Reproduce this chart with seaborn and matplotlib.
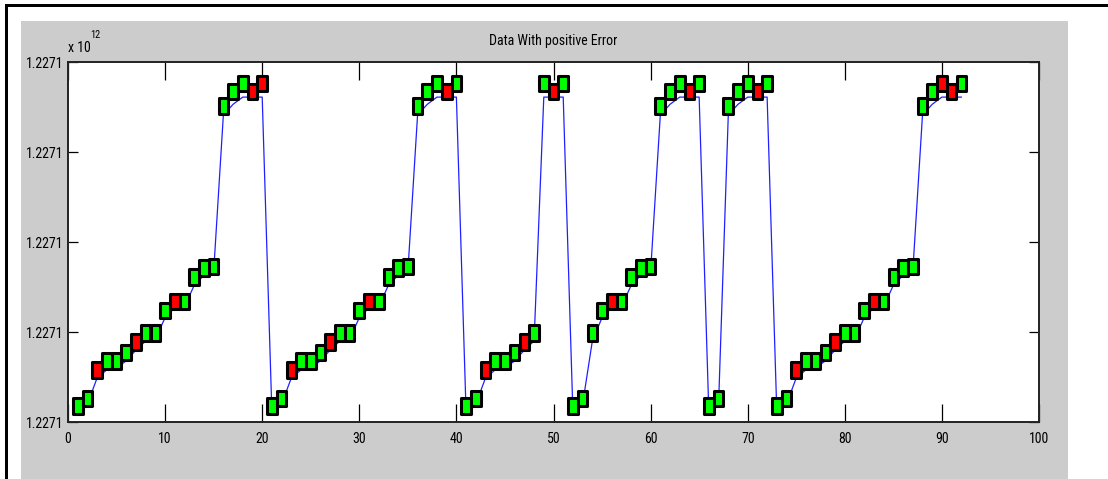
import numpy as np
import pandas as pd
import matplotlib
matplotlib.use("Agg")
import matplotlib.pyplot as plt
from matplotlib.patches import Rectangle
from matplotlib.path import Path
from matplotlib import font_manager
import seaborn as sns

# sample index
x_vals = list(range(1, 93))

# data with positive error (marker centres), in axis units between ticks
marker_y = [0.18, 0.26, 0.58, 0.68, 0.68, 0.77, 0.89, 0.99, 0.99, 1.24, 1.34, 1.34, 1.61, 1.71, 1.73, 3.51, 3.67, 3.76, 3.67, 3.76,
            0.18, 0.26, 0.58, 0.68, 0.68, 0.77, 0.89, 0.99, 0.99, 1.24, 1.34, 1.34, 1.61, 1.71, 1.73, 3.51, 3.67, 3.76, 3.67, 3.76,
            0.18, 0.26, 0.58, 0.68, 0.68, 0.77, 0.89, 0.99,
            3.76, 3.67, 3.76,
            0.18, 0.26,
            0.99, 1.24, 1.34, 1.34, 1.61, 1.71, 1.73,
            3.51, 3.67, 3.76, 3.67, 3.76,
            0.18, 0.26,
            3.51, 3.67, 3.76, 3.67, 3.76,
            0.18, 0.26, 0.58, 0.68, 0.68, 0.77, 0.89, 0.99, 0.99, 1.24, 1.34, 1.34, 1.61, 1.71, 1.73, 3.51, 3.67, 3.76, 3.67, 3.76]

# underlying data (blue line)
line_y = [0.10, 0.20, 0.49, 0.58, 0.60, 0.68, 0.80, 0.90, 0.92, 1.16, 1.27, 1.28, 1.52, 1.63, 1.67, 3.41, 3.53, 3.61, 3.61, 3.61,
          0.10, 0.20, 0.49, 0.58, 0.60, 0.68, 0.80, 0.90, 0.92, 1.16, 1.27, 1.28, 1.52, 1.63, 1.67, 3.41, 3.53, 3.61, 3.61, 3.61,
          0.10, 0.20, 0.49, 0.58, 0.60, 0.68, 0.80, 0.90,
          3.61, 3.61, 3.61,
          0.10, 0.20,
          0.90, 1.16, 1.27, 1.28, 1.52, 1.63, 1.67,
          3.41, 3.53, 3.61, 3.61, 3.61,
          0.10, 0.20,
          3.41, 3.53, 3.61, 3.61, 3.61,
          0.10, 0.20, 0.49, 0.58, 0.60, 0.68, 0.80, 0.90, 0.92, 1.16, 1.27, 1.28, 1.52, 1.63, 1.67, 3.41, 3.53, 3.61, 3.61, 3.61]

# samples drawn in red
red_x = [3, 7, 11, 19, 20, 23, 27, 31, 39, 43, 47, 50, 56, 64, 71, 75, 79, 83, 90, 91]

x_ticks = [0, 10, 20, 30, 40, 50, 60, 70, 80, 90, 100]
y_ticks = [0, 1, 2, 3, 4]
y_tick_labels = ["1.2271", "1.2271", "1.2271", "1.2271", "1.2271"]

df = pd.DataFrame({"x": x_vals, "marker": marker_y, "line": line_y})
df["kind"] = ["err" if v in red_x else "ok" for v in x_vals]

# prefer a narrow face if one is installed, otherwise plain Liberation Sans
installed = {f.name for f in font_manager.fontManager.ttflist}
narrow = [n for n in ["Liberation Sans Narrow", "Roboto Condensed", "DejaVu Sans Condensed",
                      "Open Sans Condensed"] if n in installed]
plt.rcParams["font.family"] = narrow + ["Liberation Sans", "DejaVu Sans"]
fs = 10 if narrow else 9.5

W, H = 1108, 479
fig = plt.figure(figsize=(W / 100, H / 100), dpi=100, facecolor="white")

# grey figure panel and the black frame of the screenshot
fig.add_artist(Rectangle((21 / W, 0), (1068 - 21) / W, (H - 21) / H, transform=fig.transFigure,
                         facecolor="#cccccc", edgecolor="none", zorder=-2))
fig.add_artist(Rectangle((5 / W, (H - 7) / H), (W - 5) / W, 3 / H, transform=fig.transFigure,
                         facecolor="black", edgecolor="none", zorder=-1))
fig.add_artist(Rectangle((5 / W, 0), 3 / W, (H - 4) / H, transform=fig.transFigure,
                         facecolor="black", edgecolor="none", zorder=-1))

ax = fig.add_axes([68 / W, (H - 422) / H, (1039 - 68) / W, (422 - 62) / H])
ax.set_facecolor("white")

sns.lineplot(data=df, x="x", y="line", ax=ax, color="#2020ff", linewidth=0.9,
             sort=False, estimator=None, zorder=2, legend=False)

box = Path([(-0.31, -0.5), (0.31, -0.5), (0.31, 0.5), (-0.31, 0.5), (-0.31, -0.5)],
           [Path.MOVETO, Path.LINETO, Path.LINETO, Path.LINETO, Path.CLOSEPOLY])
sns.scatterplot(data=df, x="x", y="marker", hue="kind",
                palette={"ok": "#00ff00", "err": "#ff0000"},
                marker=box, s=125, edgecolor="black", linewidth=2.2,
                ax=ax, zorder=3, legend=False)

ax.set_xlim(0, 100)
ax.set_ylim(0, 4)
ax.set_xticks(x_ticks)
ax.set_xticklabels([str(t) for t in x_ticks])
ax.set_yticks(y_ticks)
ax.set_yticklabels(y_tick_labels)
ax.set_xlabel("")
ax.set_ylabel("")

ax.tick_params(axis="x", direction="in", length=13, width=0.9, top=True, pad=7,
               labelsize=fs, colors="black")
ax.tick_params(axis="y", direction="in", length=7.5, width=0.9, right=True, pad=3.5,
               labelsize=fs, colors="black")
for sp in ax.spines.values():
    sp.set_color("#222222")
    sp.set_linewidth(1.4)

ax.set_title("Data With positive Error", fontsize=fs, pad=12)

# exponent label
fig.text(68 / W, (H - 52) / H, "x 10", fontsize=fs, ha="left", va="baseline")
fig.text(90 / W, (H - 38) / H, "12", fontsize=fs * 0.75, ha="left", va="baseline")

fig.savefig("out.png", dpi=100, facecolor="white")
